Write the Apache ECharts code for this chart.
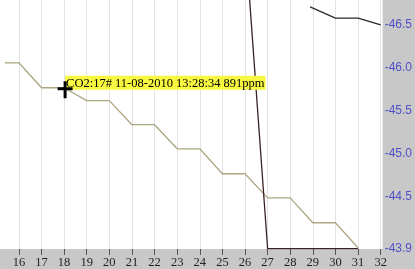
<!DOCTYPE html>
<html>
<head>
<meta charset="utf-8">
<script src="https://cdn.jsdelivr.net/npm/echarts@6/dist/echarts.min.js"></script>
<style>html,body{margin:0;padding:0;background:#fff}#c{width:415px;height:269px}</style>
</head>
<body>
<div id="c"></div>
<script>
const xTicks = [16,17,18,19,20,21,22,23,24,25,26,27,28,29,30,31,32];
const yTicks = [-46.5,-46.0,-45.5,-45.0,-44.5,-43.9];
const olX = [15.38,16,17,18,19,20,21,22,23,24,25,26,27,28,29,30,31];
const olY = [-46.06,-46.06,-45.77,-45.77,-45.62,-45.62,-45.34,-45.34,-45.06,-45.06,-44.77,-44.77,-44.49,-44.49,-44.20,-44.20,-43.91];
const lowX = [26,27,28,29,30,31];
const lowY = [-47.54,-43.9,-43.9,-43.9,-43.9,-43.9];
const topX = [28.88,30,31,32];
const topY = [-46.71,-46.58,-46.58,-46.50];
const cursorIdx = 3;
const cursorText = 'CO2:17# 11-08-2010 13:28:34 891ppm';

const zip = (a,b)=>a.map((v,i)=>[v,b[i]]);
const cursorCoord = [olX[cursorIdx], olY[cursorIdx]];
const chart = echarts.init(document.getElementById('c'), null, {renderer:'canvas'});
chart.setOption({
  animation:false,
  backgroundColor:'#c8c8c8',
  grid:{left:0,right:30,top:0,bottom:20,show:true,backgroundColor:'#ffffff',borderWidth:0},
  xAxis:{
    type:'value', min:15.165, max:32.088,
    axisLine:{show:false},
    axisTick:{show:true,customValues:xTicks,length:6,lineStyle:{color:'#555',width:1}},
    axisLabel:{customValues:xTicks,color:'#222',fontFamily:'Liberation Serif',fontSize:12.5,margin:7},
    splitLine:{show:true,lineStyle:{color:'#e2e2e2',width:1}}
  },
  yAxis:{
    type:'value', position:'right', inverse:true, min:-46.79, max:-43.895,
    axisLine:{show:false}, axisTick:{show:false}, splitLine:{show:false},
    axisLabel:{customValues:yTicks,formatter:v=>v.toFixed(1),color:'#5050c8',fontFamily:'Liberation Sans Narrow, Arial',fontSize:12,margin:2}
  },
  series:[
    {type:'line',z:2,data:zip(olX,olY),symbol:'none',lineStyle:{color:'#aca684',width:1.3},
     markPoint:{
       z:3,
       data:[{coord:cursorCoord}],
       symbol:'rect',symbolSize:0,
       label:{show:true,formatter:cursorText,position:[1,-12],color:'#000',fontFamily:'Liberation Serif',fontSize:12.5,
              backgroundColor:'#f8f840',padding:[1,1,0,1]}
     }},
    {type:'line',z:2,data:zip(lowX,lowY),symbol:'none',lineStyle:{color:'#3a2222',width:1.3}},
    {type:'line',z:2,data:zip(topX,topY),symbol:'none',lineStyle:{color:'#2a2a2a',width:1.3},
     markPoint:{
       z:20,
       data:[{coord:cursorCoord}],
       symbol:'path://M6,0H9V6H15V9H9V17H6V9H0V6H6Z',symbolSize:[15,17],symbolOffset:[1,2],
       itemStyle:{color:'#000'},label:{show:false}
     }}
  ]
});
</script>
</body>
</html>
